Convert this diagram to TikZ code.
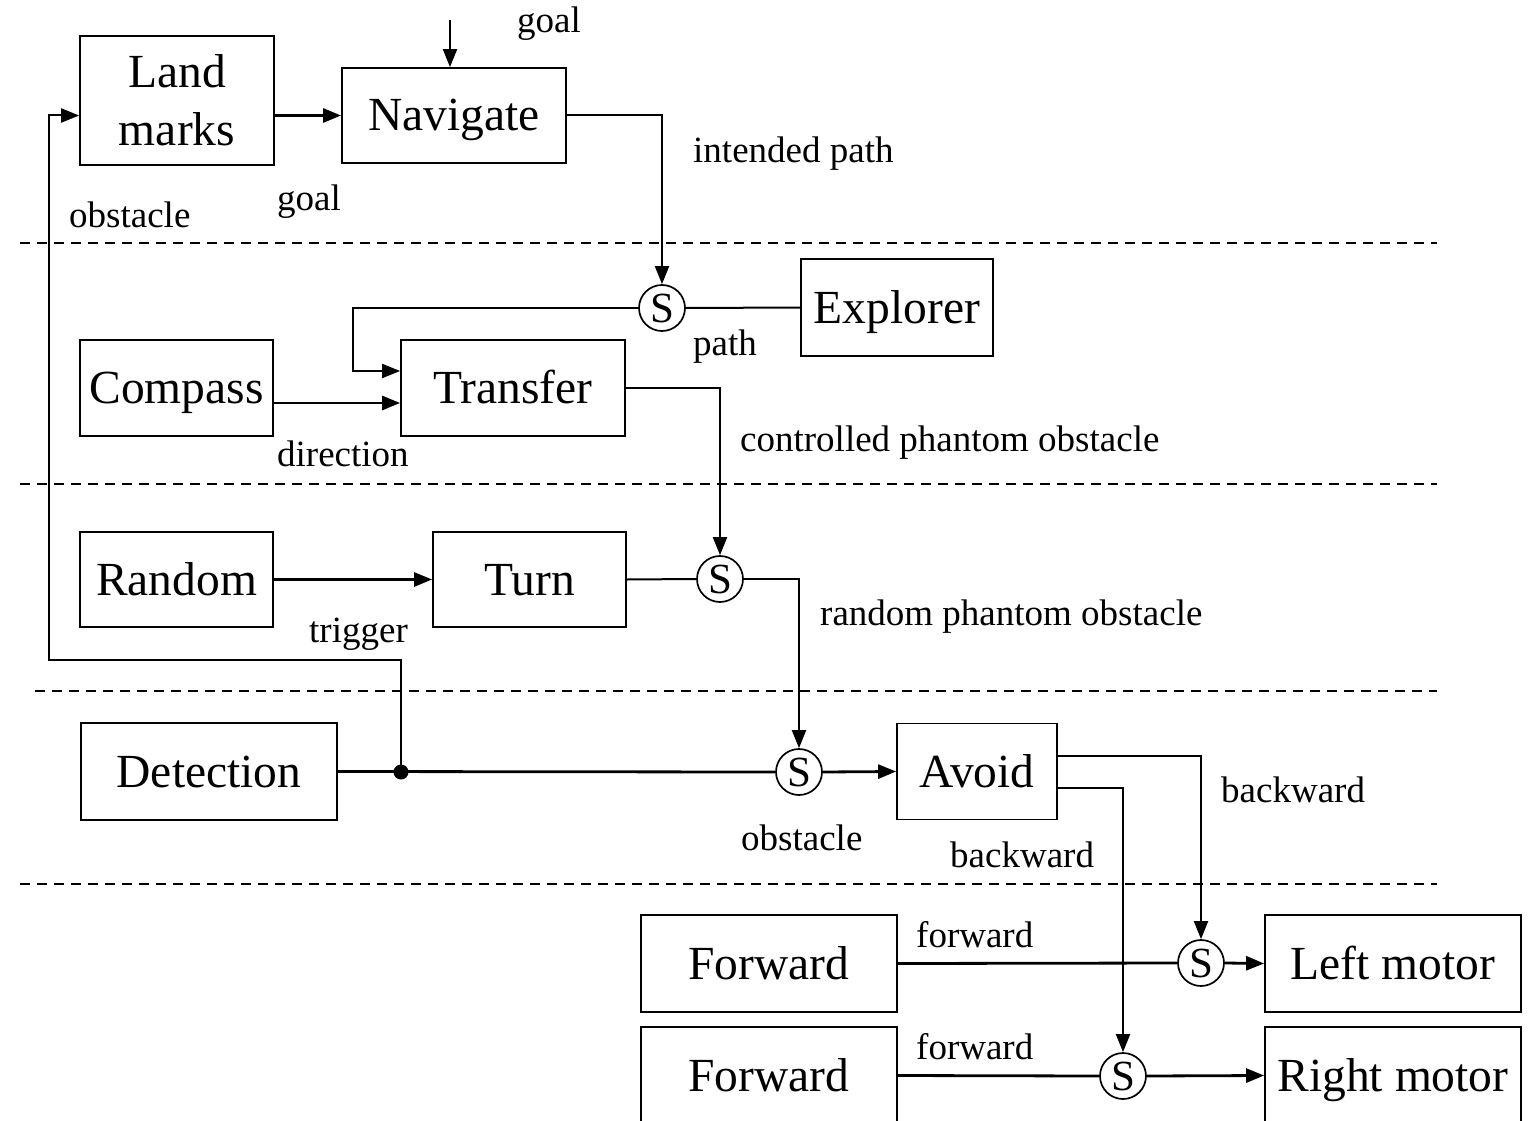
\documentclass[tikz,border=0pt]{standalone}
\usepackage{fontspec}
\setmainfont{Liberation Serif}
\usetikzlibrary{arrows.meta,calc}

\tikzset{
  blocktext/.style={font=\fontsize{47.5pt}{58pt}\selectfont},
  labeltext/.style={font=\fontsize{37pt}{44pt}\selectfont, inner sep=0pt, anchor=base west},
  block/.style={draw, line width=1.8pt, inner sep=0pt, blocktext,
                text height=31pt, text depth=0pt},
  twoline/.style={draw, line width=1.8pt, inner sep=0pt, blocktext, align=center},
  sw/.style={draw, circle, line width=1.7pt, inner sep=0pt, minimum size=46pt,
             font=\fontsize{43pt}{46pt}\selectfont, text height=29pt, text depth=0pt},
  wire/.style={line width=2pt},
  heavy/.style={line width=2.8pt},
  arr/.style={-{Triangle[length=18pt,width=14pt]}},
  layer/.style={line width=1.5pt, dash pattern=on 10pt off 7pt},
  junction/.style={circle, fill, inner sep=0pt, minimum size=15pt}
}

\begin{document}
\begin{tikzpicture}[x=1pt, y=-1pt]
\useasboundingbox (0,0) rectangle (1534,1121);
\clip (0,0) rectangle (1534,1121);

% layer separators
\draw[layer] (20,243) -- (1437,243);
\draw[layer] (20,484) -- (1437,484);
\draw[layer] (35,691) -- (1437,691);
\draw[layer] (20,884) -- (1437,884);

% behaviour blocks
\node[twoline, minimum width=194pt, minimum height=129pt] (land) at (177,100.5) {Land\\marks};
\node[block, minimum width=224pt, minimum height=95pt] (nav) at (454,115.5) {Navigate};
\node[block, minimum width=192pt, minimum height=97pt] (expl) at (897,307.5) {Explorer};
\node[block, minimum width=193pt, minimum height=96pt] (comp) at (176.5,388) {Compass};
\node[block, minimum width=224pt, minimum height=96pt] (trans) at (513,388) {Transfer};
\node[block, minimum width=193pt, minimum height=95pt] (rand) at (176.5,579.5) {Random};
\node[block, minimum width=193pt, minimum height=95pt] (turn) at (529.5,579.5) {Turn};
\node[block, minimum width=256pt, minimum height=97pt] (det) at (209,771.5) {Detection};
\node[block, minimum width=160pt, minimum height=96pt] (avoid) at (977,771.5) {Avoid};
\node[block, minimum width=256pt, minimum height=97pt] (fwdA) at (769,963.5) {Forward};
\node[block, minimum width=256pt, minimum height=97pt] (lmot) at (1393,963.5) {Left motor};
\node[block, minimum width=256pt, minimum height=97pt] (fwdB) at (769,1075.5) {Forward};
\node[block, minimum width=256pt, minimum height=97pt] (rmot) at (1393,1075.5) {Right motor};

% suppression nodes
\node[sw] (s1) at (662,308) {S};
\node[sw] (s2) at (720,579) {S};
\node[sw] (s3) at (799,772) {S};
\node[sw] (s4) at (1201,963) {S};
\node[sw] (s5) at (1123,1076) {S};

% junction and bend points
\node[junction] (junc) at (401,772) {};
\coordinate (goalin) at (450,20);
\coordinate (pathbend) at (353,371);
\coordinate (loopA) at (401,660);
\coordinate (loopB) at (49,660);

% connectors, top layer
\draw[wire, arr] (goalin) -- (goalin |- nav.north);
\draw[heavy, arr] (land.east |- nav.west) -- (nav.west);
\draw[wire, arr] (nav.east) -| (s1.north);

% second layer
\draw[wire] (expl.west) -- (s1.east);
\draw[wire, arr] (s1.west) -| (pathbend) -- (trans.west |- pathbend);
\draw[heavy, arr] ([yshift=-15pt]comp.east) -- ([yshift=-15pt]trans.west);
\draw[wire, arr] (trans.east) -| (s2.north);

% third layer
\draw[heavy, arr] (rand.east) -- (turn.west);
\draw[wire] (turn.east) -- (s2.west);
\draw[wire, arr] (s2.east) -| (s3.north);

% fourth layer
\draw[heavy] (det.east) -- (s3.west);
\draw[wire, arr] (junc.center) -- (loopA) -- (loopB) |- (land.west |- nav.west);
\draw[heavy, arr] (s3.east) -- (avoid.west);
\draw[wire, arr] ([yshift=16pt]avoid.east) -| (s4.north);
\draw[wire, arr] ([yshift=-16pt]avoid.east) -| (s5.north);

% motor layer
\draw[heavy] (fwdA.east) -- (s4.west);
\draw[heavy, arr] (s4.east) -- (lmot.west);
\draw[heavy] (fwdB.east) -- (s5.west);
\draw[heavy, arr] (s5.east) -- (rmot.west);

% signal labels
\node[labeltext] (lgoalA) at (517,33) {goal};
\node[labeltext] (lint) at (693,162) {intended path};
\node[labeltext] (lgoalB) at (277,210) {goal};
\node[labeltext] (lobsA) at (69,227) {obstacle};
\node[labeltext] (lpath) at (693,355) {path};
\node[labeltext] (ldir) at (277,466) {direction};
\node[labeltext] (lctl) at (740,451) {controlled phantom obstacle};
\node[labeltext] (ltrig) at (309,642) {trigger};
\node[labeltext] (lrnd) at (820,625) {random phantom obstacle};
\node[labeltext] (lobsB) at (741,850) {obstacle};
\node[labeltext] (lbackA) at (1221,802) {backward};
\node[labeltext] (lbackB) at (950,867) {backward};
\node[labeltext] (lfwdA) at (916,947) {forward};
\node[labeltext] (lfwdB) at (916,1059) {forward};
\end{tikzpicture}
\end{document}
